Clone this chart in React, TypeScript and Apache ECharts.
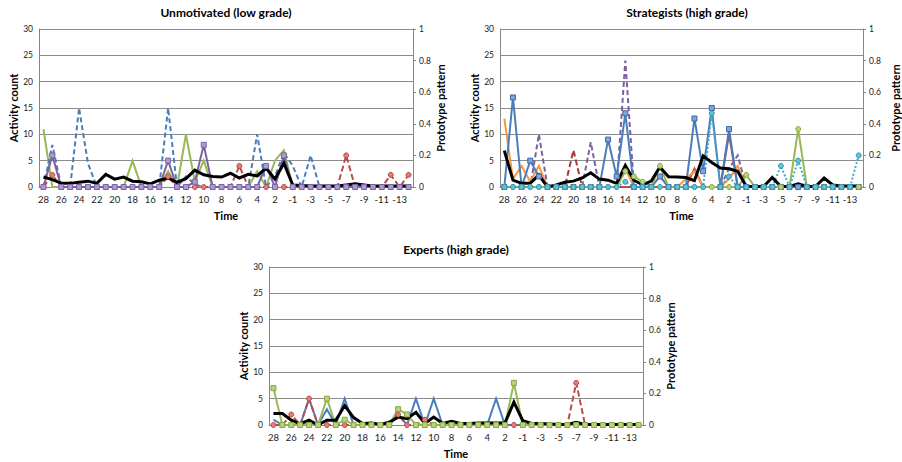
import React, { useEffect, useRef } from "react";
import * as echarts from "echarts";

const timeCategories = [
  "28", "27", "26", "25", "24", "23", "22", "21", "20", "19", "18", "17", "16", "15",
  "14", "13", "12", "11", "10", "9", "8", "7", "6", "5", "4", "3", "2", "1",
  "-1", "-2", "-3", "-4", "-5", "-6", "-7", "-8", "-9", "-10", "-11", "-12", "-13", "-14",
];

const countTicks = [0, 5, 10, 15, 20, 25, 30];
const patternTicks = [0, 0.2, 0.4, 0.6, 0.8, 1];

// Unmotivated (low grade)
const unmotGreen = [11, 0, 0, 0, 0, 0, 0, 0, 0, 0, 5, 0, 0, 0, 3, 0, 10, 1, 5, 0, 0, 0, 0, 0, 3, 0, 5, 7, 0, 0, 0, 0, 0, 0, 0, 0, 0, 0, 0, 0, 0, 0];
const unmotBlue = [0, 8, 0, 0, 15, 4.5, 0, 0, 0, 0, 0, 0, 0, 0, 15, 0, 2, 0.5, 0, 0, 0, 0, 0, 0, 10, 0, 2, 6.5, 4, 0, 6, 0, 0, 0, 0, 0, 0, 0, 0, 0, 0, 0];
const unmotRed = [0, 2.3, 0, 0, 0, 0, 0, 0, 0, 0, 0, 0, 0, 0, 2, 0, 0, 0, 0, 0, 0, 0, 4, 0, 0, 0, 0, 0, 0, 0, 0, 0, 0, 0, 6, 0, 0, 0, 0, 2.3, 0, 2.3];
const unmotPurple = [0, 6, 0, 0, 0, 0, 0, 0, 0, 0, 0, 0, 0, 0, 5, 0, 0, 1, 8, 0, 0, 0, 0, 0, 0, 4, 0, 6, 0, 0, 0, 0, 0, 0, 0, 0, 0, 0, 0, 0, 0, 0];
const unmotPattern = [0.063, 0.047, 0.023, 0.023, 0.03, 0.037, 0.023, 0.08, 0.05, 0.063, 0.037, 0.033, 0.02, 0.043, 0.057, 0.03, 0.053, 0.107, 0.077, 0.067, 0.063, 0.087, 0.057, 0.08, 0.07, 0.12, 0.05, 0.15, 0.013, 0.01, 0.007, 0.007, 0.007, 0.007, 0.013, 0.02, 0.013, 0.007, 0.007, 0.007, 0.007, 0.007];

// Strategists (high grade)
const stratBlue = [0, 17, 0, 5, 2, 0, 0, 0, 0, 0, 0, 0, 9, 2, 14, 0, 0, 0, 2, 0, 0, 0, 13, 3, 15, 0, 11, 0, 0, 0, 0, 0, 0, 0, 0, 0, 0, 0, 0, 0, 0, 0];
const stratOrange = [13, 1.5, 4, 1, 4, 0, 0, 0, 0, 0, 0, 0, 0, 0, 3.5, 0, 0, 0, 2, 0, 0, 1.5, 3, 0, 0, 0, 1.5, 4, 0, 0, 0, 0, 0, 0, 0, 0, 0, 0, 0, 0, 0, 0];
const stratPurple = [0, 0, 0, 0, 10, 0, 0, 0, 0, 0, 8.5, 0, 0, 0, 24, 0, 0, 0, 0, 0, 0, 0, 0, 0, 0, 0, 3.5, 6, 0, 0, 0, 0, 0, 0, 0, 0, 0, 0, 0, 0, 0, 0];
const stratRed = [0, 0, 0, 0, 0, 0, 0, 0, 0, 0, 0, 0, 0, 0, 0, 0, 0, 0, 0, 0, 0, 0, 3.5, 0, 0, 0, 10, 0, 0, 0, 0, 0, 0, 0, 0, 0, 0, 0, 0, 0, 0, 0];
const stratMaroon = [0, 0, 0, 0, 0, 0, 0, 0, 7, 0, 0, 0, 0, 0, 0, 0, 0, 0, 0, 0, 0, 0, 0, 0, 0, 0, 0, 0, 0, 0, 0, 0, 0, 0, 0, 0, 0, 0, 0, 0, 0, 0];
const stratGreen = [0, 0, 0, 0, 0, 0, 0, 0, 0, 0, 0, 0, 0, 0, 3, 2, 1, 0, 4, 0, 0, 0, 0, 0, 0, 0, 0, 0, 2.3, 0, 0, 0, 0, 0, 11, 0, 0, 0, 0, 0, 0, 0];
const stratAqua = [0, 0, 0, 0, 0, 0, 0, 0, 0, 0, 0, 0, 0, 0, 1, 0, 0, 0, 0, 0, 0, 0, 0, 0, 14, 0, 2, 0, 0, 0, 0, 0, 4, 0, 5, 0, 0, 0, 0, 0, 0, 6];
const stratPattern = [0.23, 0.043, 0.023, 0.023, 0.077, 0.0, 0.013, 0.03, 0.037, 0.057, 0.09, 0.05, 0.043, 0.023, 0.137, 0.043, 0.013, 0.037, 0.127, 0.065, 0.063, 0.06, 0.04, 0.197, 0.155, 0.12, 0.115, 0.1, 0.003, 0.003, 0.003, 0.06, 0.003, 0.003, 0.02, 0.003, 0.003, 0.057, 0.013, 0.007, 0.007, 0.007];

// Experts (high grade)
const expBlue = [1, 0, 0, 0, 5, 0, 3, 0, 5, 0, 0, 0, 0, 0, 2, 0, 5, 0, 5, 0, 0, 0, 0, 0, 0, 5, 0, 0, 0, 0, 0, 0, 0, 0, 0, 0, 0, 0, 0, 0, 0, 0];
const expRed = [0, 0, 2, 0, 5, 0, 0, 0, 0, 0, 0, 0, 0, 0, 2, 0, 0, 1, 0, 0, 0, 0, 0, 0, 0, 0, 0, 0, 0, 0, 0, 0, 0, 0, 8, 0, 0, 0, 0, 0, 0, 0];
const expGreen = [7, 0, 0, 0, 0, 0, 5, 0, 1, 0, 0, 0, 0, 0, 3, 2, 0, 0, 0, 0, 0, 0, 0, 0, 0, 0, 0, 8, 0, 0, 0, 0, 0, 0, 0, 0, 0, 0, 0, 0, 0, 0];
const expPattern = [0.073, 0.073, 0.03, 0.007, 0.03, 0.0, 0.03, 0.03, 0.123, 0.047, 0.01, 0.013, 0.003, 0.017, 0.05, 0.04, 0.08, 0.01, 0.05, 0.01, 0.023, 0.01, 0.01, 0.013, 0.013, 0.013, 0.013, 0.145, 0.027, 0.01, 0.01, 0.007, 0.003, 0.003, 0.017, 0.003, 0.003, 0.003, 0.003, 0.003, 0.003, 0.003];

const FONT = "Lato, 'Open Sans', sans-serif";
const AXIS_GRAY = "#868686";

type LineOpts = {
  width?: number;
  dash?: any;
  symbol?: string;
  fill?: string;
  border?: string;
  size?: number;
};

function mkLine(name: string, data: number[], panel: number, right: boolean, color: string, o: LineOpts = {}) {
  return {
    type: "line",
    name,
    data,
    xAxisIndex: panel,
    yAxisIndex: panel * 2 + (right ? 1 : 0),
    lineStyle: { color, width: o.width ?? 2, type: o.dash ?? "solid", cap: "butt", join: "miter" },
    itemStyle: { color: o.fill ?? color, borderColor: o.border ?? color, borderWidth: 1 },
    symbol: o.symbol ?? "none",
    symbolSize: o.size ?? 5,
    showSymbol: !!o.symbol,
    showAllSymbol: true,
    silent: true,
    animation: false,
  };
}

const grids = [
  { left: 39, top: 29, width: 374, height: 158 },
  { left: 500, top: 29, width: 374, height: 158 },
  { left: 269, top: 267, width: 374, height: 158 },
];

export default function App() {
  const ref = useRef<HTMLDivElement>(null);

  useEffect(() => {
    document.body.style.margin = "0";
    if (!ref.current) return;
    const chart = echarts.init(ref.current, undefined, { renderer: "svg" });

    const xAxes = grids.map((_, i) => ({
      type: "category",
      gridIndex: i,
      data: timeCategories,
      boundaryGap: true,
      name: "Time",
      nameLocation: "middle",
      nameGap: 23,
      nameTextStyle: { fontFamily: FONT, fontWeight: "bold", fontSize: 11, color: "#000" },
      axisLine: { show: true, lineStyle: { color: AXIS_GRAY, width: 1 } },
      axisTick: { show: false },
      axisLabel: { interval: 1, fontFamily: FONT, fontSize: 9.5, color: "#222", margin: 7 },
      splitLine: { show: false },
    }));

    const yAxes: any[] = [];
    const rightGaps = [21, 27, 21];
    grids.forEach((_, i) => {
      yAxes.push({
        type: "value",
        gridIndex: i,
        position: "left",
        min: countTicks[0],
        max: countTicks[countTicks.length - 1],
        interval: 5,
        name: "Activity count",
        nameLocation: "middle",
        nameRotate: 90,
        nameGap: 16,
        nameTextStyle: { fontFamily: FONT, fontWeight: "bold", fontSize: 11, color: "#000" },
        axisLine: { show: true, lineStyle: { color: AXIS_GRAY, width: 1 } },
        axisTick: { show: false },
        axisLabel: { fontFamily: FONT, fontSize: 8.5, color: "#222", margin: 6 },
        splitLine: { show: true, lineStyle: { color: "#8c8c8c", width: 1 } },
      });
      yAxes.push({
        type: "value",
        gridIndex: i,
        position: "right",
        min: patternTicks[0],
        max: patternTicks[patternTicks.length - 1],
        interval: 0.2,
        name: "Prototype pattern",
        nameLocation: "middle",
        nameRotate: 90,
        nameGap: rightGaps[i],
        nameTextStyle: { fontFamily: FONT, fontWeight: "bold", fontSize: 11, color: "#000" },
        axisLine: { show: true, lineStyle: { color: AXIS_GRAY, width: 1 } },
        axisTick: { show: true, length: 3, lineStyle: { color: AXIS_GRAY } },
        axisLabel: { fontFamily: FONT, fontSize: 8.5, color: "#222", margin: 6 },
        splitLine: { show: false },
      });
    });

    const blue = "#4A7EBB";
    const red = "#BE4B48";
    const green = "#98B954";
    const purple = "#7D60A0";
    const aqua = "#46AAC5";
    const orange = "#F79646";
    const maroon = "#A53A3A";

    const series = [
      // Panel 0
      mkLine("green", unmotGreen, 0, false, green),
      mkLine("blue", unmotBlue, 0, false, blue, { dash: [5, 3] }),
      mkLine("red", unmotRed, 0, false, red, { dash: [6, 3], symbol: "circle", fill: "#E87A77", border: "#B44A47" }),
      mkLine("purple", unmotPurple, 0, false, purple, { symbol: "rect", fill: "#AD9BD0", border: "#7A62A8" }),
      mkLine("pattern", unmotPattern, 0, true, "#000", { width: 3 }),
      // Panel 1
      mkLine("maroon", stratMaroon, 1, false, maroon, { dash: [6, 3] }),
      mkLine("purple", stratPurple, 1, false, purple, { dash: [5, 3] }),
      mkLine("red", stratRed, 1, false, red),
      mkLine("orange", stratOrange, 1, false, orange),
      mkLine("blue", stratBlue, 1, false, blue, { symbol: "rect", fill: "#7EA6DC", border: "#3C68A6" }),
      mkLine("green", stratGreen, 1, false, green, { symbol: "circle", fill: "#B7D47C", border: "#86A646" }),
      mkLine("aqua", stratAqua, 1, false, aqua, { dash: [2, 2], symbol: "circle", fill: "#5FC3DD", border: "#3393AD" }),
      mkLine("pattern", stratPattern, 1, true, "#000", { width: 3 }),
      // Panel 2
      mkLine("blue", expBlue, 2, false, blue),
      mkLine("red", expRed, 2, false, red, { dash: [6, 3], symbol: "circle", fill: "#E87A77", border: "#B44A47" }),
      mkLine("green", expGreen, 2, false, green, { symbol: "rect", fill: "#B7D47C", border: "#86A646" }),
      mkLine("pattern", expPattern, 2, true, "#000", { width: 3 }),
    ];

    const titleStyle = (text: string) => ({
      text,
      textAlign: "center",
      textVerticalAlign: "middle",
      fontFamily: FONT,
      fontWeight: "bold",
      fontSize: 12,
      fill: "#000",
    });

    chart.setOption({
      animation: false,
      backgroundColor: "#fff",
      grid: grids,
      xAxis: xAxes,
      yAxis: yAxes,
      series,
      graphic: [
        { type: "text", x: 226, y: 12, style: titleStyle("Unmotivated (low grade)") },
        { type: "text", x: 687, y: 12, style: titleStyle("Strategists (high grade)") },
        { type: "text", x: 456, y: 249, style: titleStyle("Experts (high grade)") },
      ],
    });

    return () => chart.dispose();
  }, []);

  return <div ref={ref} style={{ width: 902, height: 462 }} />;
}
